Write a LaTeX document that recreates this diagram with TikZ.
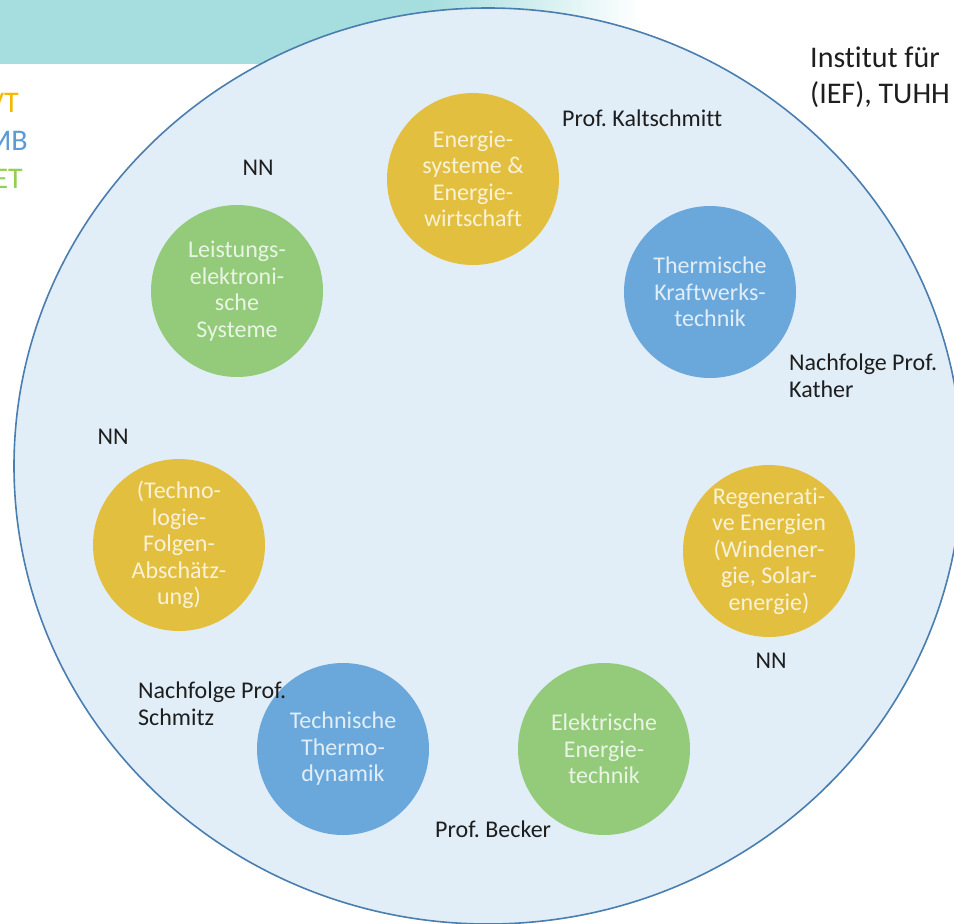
\documentclass[tikz,border=0pt]{standalone}
\usepackage{fontspec}
\setmainfont{Carlito}[Ligatures={TeX,NoCommon}]
\frenchspacing
\definecolor{banner}{RGB}{166,222,223}
\definecolor{discfill}{RGB}{225,238,247}
\definecolor{discline}{RGB}{74,126,176}
\definecolor{vtcol}{RGB}{227,191,63}
\definecolor{mbcol}{RGB}{106,168,220}
\definecolor{etcol}{RGB}{147,203,122}
\definecolor{legvt}{RGB}{245,184,0}
\definecolor{legmb}{RGB}{91,155,213}
\definecolor{leget}{RGB}{146,208,80}
\definecolor{labeltext}{RGB}{30,30,30}
\begin{document}
\begin{tikzpicture}[x=1pt,y=-1pt,
  field/.style={circle, minimum size=172pt, inner sep=0pt, align=center,
    text=white, text opacity=0.8, font=\fontsize{24}{26.5}\selectfont},
  vtfield/.style={field, fill=vtcol},
  mbfield/.style={field, fill=mbcol},
  etfield/.style={field, fill=etcol},
  person/.style={text=labeltext, inner sep=0pt, align=left,
    font=\fontsize{24}{27}\selectfont},
  legend/.style={inner sep=0pt, anchor=base east, font=\fontsize{30}{36}\selectfont}]
\useasboundingbox (0,0) rectangle (954,924);
\clip (0,0) rectangle (954,924);

% header band fading out to the right
\fill[banner] (0,0) rectangle (431,64);
\shade[left color=banner, right color=white, shading angle=90] (430,0) rectangle (640,64);

% institute disc
\draw[fill=discfill, draw=discline, line width=1.6pt] (488,466) ellipse [x radius=474, y radius=458];

% legend of the departments
\node[legend, text=legvt] (lvt) at (19,112) {VT};
\node[legend, text=legmb] (lmb) at (28,150) {MB};
\node[legend, text=leget] (let) at (23,188) {ET};

% institute title
\node[person, anchor=west, font=\fontsize{30}{36}\selectfont] (title) at (810,77) {Institut für\\(IEF), TUHH};

% research fields
\node[vtfield] (esys) at (473,179) {Energie-\\systeme \&\\Energie-\\wirtschaft};
\node[mbfield] (tkw) at (710,292) {Thermische\\Kraftwerks-\\technik};
\node[vtfield] (reg) at (769,551) {Regenerati-\\ve Energien\\(Windener-\\gie, Solar-\\energie)};
\node[etfield] (eet) at (604,749) {Elektrische\\Energie-\\technik};
\node[mbfield] (ttd) at (343,749) {Technische\\Thermo-\\dynamik};
\node[vtfield] (tfa) at (179,545) {(Techno-\\logie-\\Folgen-\\Abschätz-\\ung)};
\node[etfield] (les) at (237,291) {Leistungs-\\elektroni-\\sche\\Systeme};

% chairs
\node[person, anchor=west] (p1) at (562,118) {Prof. Kaltschmitt};
\node[person, anchor=west] (p2) at (789,376) {Nachfolge Prof.\\Kather};
\node[person] (p3) at (771,661) {NN};
\node[person, anchor=west] (p4) at (435,829) {Prof. Becker};
\node[person, anchor=west] (p5) at (138,704) {Nachfolge Prof.\\Schmitz};
\node[person] (p6) at (113,437) {NN};
\node[person] (p7) at (258,168) {NN};
\end{tikzpicture}
\end{document}
